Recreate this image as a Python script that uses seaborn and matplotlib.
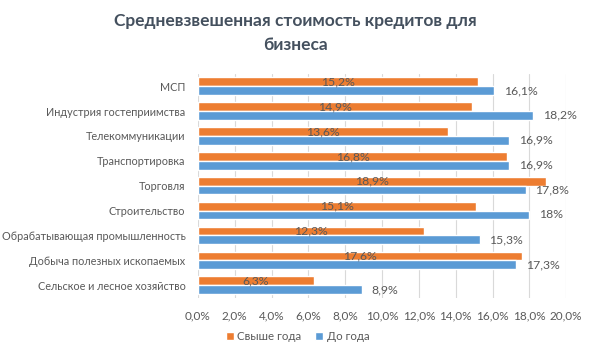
import matplotlib
matplotlib.use("Agg")
import matplotlib.pyplot as plt
import pandas as pd
import seaborn as sns
from matplotlib.ticker import FuncFormatter, MultipleLocator

# data
categories = [
    "МСП",
    "Индустрия гостеприимства",
    "Телекоммуникации",
    "Транспортировка",
    "Торговля",
    "Строительство",
    "Обрабатывающая промышленность",
    "Добыча полезных ископаемых",
    "Сельское и лесное хозяйство",
]
over_year = [15.2, 14.9, 13.6, 16.8, 18.9, 15.1, 12.3, 17.6, 6.3]
under_year = [16.1, 18.2, 16.9, 16.9, 17.8, 18.0, 15.3, 17.3, 8.9]
series_names = ["Свыше года", "До года"]
colors = ["#ED7D31", "#5B9BD5"]

df = pd.DataFrame({
    "category": categories * 2,
    "value": over_year + under_year,
    "series": [series_names[0]] * len(categories) + [series_names[1]] * len(categories),
})

sns.set_theme(style="white")
plt.rcParams["font.family"] = ["Lato", "DejaVu Sans"]
text_color = "#595959"

fig = plt.figure(figsize=(5.91, 3.51), dpi=100)
ax = fig.add_axes([0.335, 0.152, 0.623, 0.638])

sns.barplot(data=df, y="category", x="value", hue="series", order=categories,
            hue_order=series_names, palette=colors, orient="h", width=0.7,
            saturation=1, ax=ax, legend=True)


def fmt(v):
    s = f"{v:.1f}".replace(".", ",")
    if s.endswith(",0"):
        s = s[:-2]
    return s + "%"


ax.bar_label(ax.containers[0], labels=[fmt(v) for v in over_year],
             label_type="center", fontsize=8.8, color=text_color)
ax.bar_label(ax.containers[1], labels=[fmt(v) for v in under_year],
             padding=7, fontsize=8.8, color=text_color)

ax.set_xlim(0, 20)
ax.xaxis.set_major_locator(MultipleLocator(2))
ax.xaxis.set_major_formatter(FuncFormatter(lambda v, p: f"{v:.1f}%".replace(".", ",")))
ax.grid(axis="x", color="#d9d9d9", linewidth=0.8)
ax.set_axisbelow(True)
for sp in ax.spines.values():
    sp.set_visible(False)
ax.set_xlabel("")
ax.set_ylabel("")
ax.tick_params(axis="both", length=0, colors=text_color)
ax.tick_params(axis="x", pad=9, labelsize=8.5)
ax.tick_params(axis="y", pad=9, labelsize=7.8)

leg = ax.legend(loc="center", bbox_to_anchor=(0.27, -0.175), ncol=2, frameon=False,
                fontsize=8.3, handlelength=0.7, handleheight=0.7, handletextpad=0.3,
                columnspacing=1.2)
for t in leg.get_texts():
    t.set_color(text_color)

fig.text(0.5, 0.962, "Средневзвешенная стоимость кредитов для\nбизнеса",
         ha="center", va="top", fontsize=12.5, fontweight="bold", color="#44505e",
         linespacing=1.6)

fig.savefig("out.png", dpi=100, facecolor="white")
